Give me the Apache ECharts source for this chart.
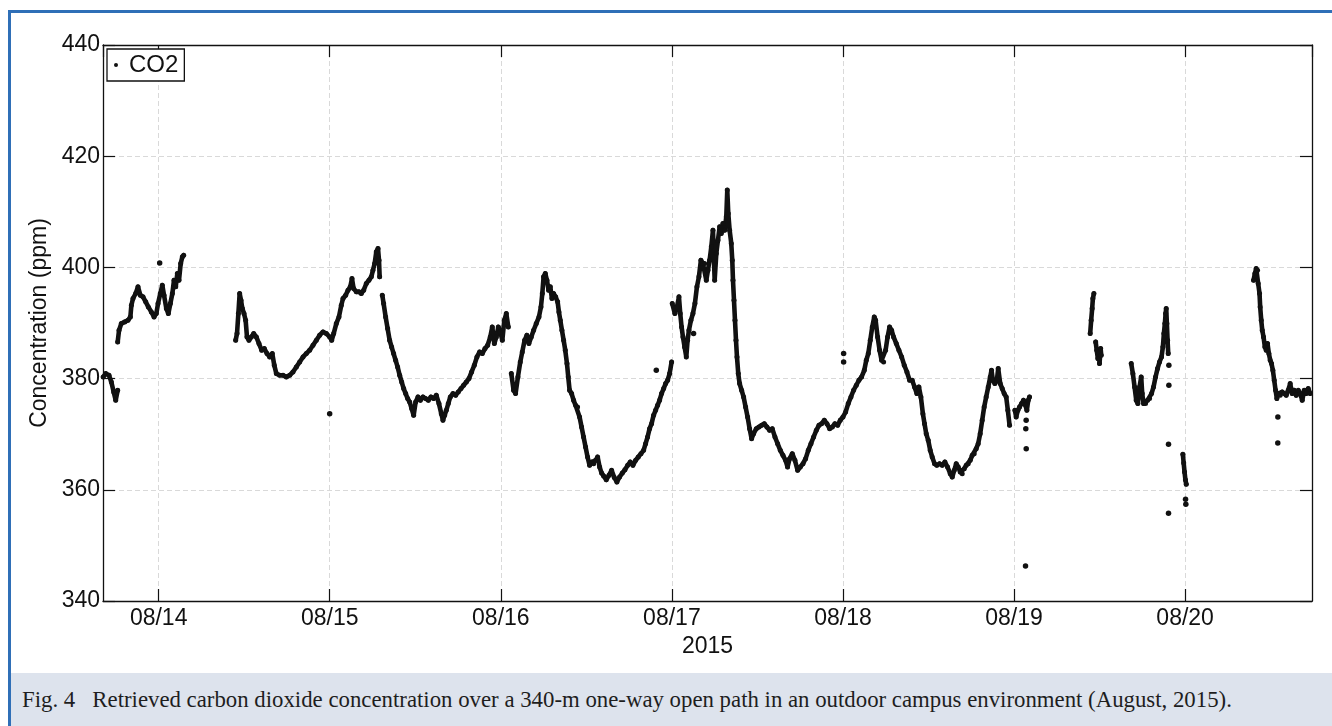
<!DOCTYPE html>
<html>
<head>
<meta charset="utf-8">
<script src="https://cdn.jsdelivr.net/npm/echarts@6/dist/echarts.min.js"></script>
<style>
  html, body { margin: 0; padding: 0; background: #ffffff; }
  #page { position: relative; width: 1332px; height: 726px; overflow: hidden; background: #fff; }
  #frame { position: absolute; left: 8px; top: 10px; width: 1400px; height: 800px;
           border-left: 3px solid #2f6fb7; border-top: 3px solid #2f6fb7; box-sizing: border-box; }
  #chart { position: absolute; left: 0; top: 0; width: 1332px; height: 726px; }
  #caption { position: absolute; left: 11px; top: 673px; width: 1321px; height: 53px;
             background: #dde3ed; font-family: "Liberation Serif", "DejaVu Serif", serif;
             font-size: 22.8px; color: #1e1e1e; line-height: 53px; padding-left: 11px;
             box-sizing: border-box; white-space: pre; }
</style>
</head>
<body>
<div id="page">
  <div id="frame"></div>
  <div id="chart"></div>
  <div id="caption">Fig. 4   Retrieved carbon dioxide concentration over a 340-m one-way open path in an outdoor campus environment (August, 2015).</div>
</div>
<script>
// Continuous CO2 record: hours after 2015-08-14 00:00 and concentration (ppm).
// A null entry in both arrays marks a break in the record.
const traceHours = [
  -7.78, -7.43, -6.97, -6.64, -6.31, -6.03, -5.75, null,
  -5.75, -5.56, -5.24, -4.77, -4.30, -3.97, -3.83, -3.60, -3.23, -2.90, -2.57, -2.20, -1.82, -1.45, -1.03, -0.65, -0.33, -0.09,
  0.23, 0.51, 0.75, 1.08, 1.36, 1.64, 1.92, 2.15, 2.39, 2.62, 2.85, 3.09, 3.32, 3.51, null,
  10.80, 10.99, 11.18, 11.36, 11.55, 11.74, 11.97, 12.20, 12.39, 12.67, 13.00, 13.33, 13.70, 14.07, 14.45, 14.82, 15.20, 15.57,
  15.94, 16.22, 16.51, 16.97, 17.44, 17.91, 18.38, 18.84, 19.31, 19.78, 20.25, 20.71, 21.18, 21.65, 22.12, 22.58, 23.05, 23.52,
  23.99, 24.27, 24.55, 24.92, 25.29, 25.62, 25.86, 26.23, 26.56, 26.88, 27.12, 27.35, 27.73, 28.10, 28.43, 28.76, 29.13, 29.50,
  29.83, 30.06, 30.30, 30.53, 30.77, 30.91, 31.00, null,
  31.37, 31.56, 31.84, 32.12, 32.40, 32.68, 32.96, 33.24, 33.52, 33.81, 34.09, 34.37, 34.65, 34.93, 35.21, 35.49, 35.77, 36.05,
  36.38, 36.71, 37.08, 37.45, 37.83, 38.20, 38.57, 38.95, 39.32, 39.65, 39.88, 40.12, 40.35, 40.63, 40.91, 41.29, 41.66, 42.03,
  42.41, 42.78, 43.16, 43.53, 43.90, 44.28, 44.65, 45.03, 45.40, 45.78, 46.15, 46.52, 46.80, 47.09, 47.37, 47.65, 47.93, 48.21,
  48.49, 48.77, 49.05, null,
  49.47, 49.79, 50.07, 50.40, 50.73, 51.01, 51.34, 51.66, 51.94, 52.27, 52.60, 52.97, 53.35, 53.63, 53.82, 54.00, 54.24, 54.47,
  54.70, 54.94, 55.17, 55.40, 55.69, 55.97, 56.15, 56.34, 56.57, 56.81, 57.04, 57.28, 57.46, 57.65, 57.93, 58.21, 58.49, 58.77,
  59.05, 59.33, 59.61, 59.89, 60.17, 60.45, 60.74, 61.02, 61.30, 61.58, 61.86, 62.14, 62.42, 62.79, 63.17, 63.54, 63.92, 64.29,
  64.66, 65.04, 65.41, 65.79, 66.16, 66.53, 66.91, 67.28, 67.66, 68.03, 68.31, 68.59, 68.87, 69.15, 69.43, 69.71, 69.99, 70.27,
  70.55, 70.84, 71.12, 71.40, 71.68, 71.96, null,
  72.05, 72.42, 72.71, 72.99, 73.17, 73.36, 73.55, 73.78, 74.02, 74.20, 74.39, 74.67, 74.95, 75.23, 75.51, 75.79, 76.07, 76.35,
  76.59, 76.83, 77.06, 77.29, 77.53, 77.76, 78.00, 78.23, 78.46, 78.70, 78.93, 79.16, 79.40, 79.63, 79.77, 79.91, 80.10, 80.33,
  80.47, 80.57, 80.71, 80.85, 80.99, 81.13, 81.31, 81.50, 81.78, 82.06, 82.34, 82.62, 82.90, 83.18, 83.46, 83.84, 84.21, 84.59,
  84.96, 85.33, 85.71, 86.08, 86.46, 86.83, 87.21, 87.58, 87.95, 88.23, 88.51, 88.89, 89.26, 89.64, 90.01, 90.39, 90.76, 91.13,
  91.51, 91.88, 92.26, 92.63, 93.00, 93.38, 93.75, 94.13, 94.50, 94.87, 95.25, 95.62, 96.00, 96.37, 96.74, 97.12, 97.49, 97.87,
  98.24, 98.61, 98.99, 99.27, 99.55, 99.83, 100.11, 100.39, 100.58, 100.86, 101.14, 101.42, 101.70, 101.98, 102.26, 102.54,
  102.82, 103.10, 103.48, 103.85, 104.23, 104.60, 104.97, 105.35, 105.71, 106.04, 106.37, 106.65, 106.93, 107.21, 107.44,
  107.68, 107.96, 108.24, 108.52, 108.85, 109.17, 109.55, 109.92, 110.30, 110.67, 111.05, 111.33, 111.61, 111.89, 112.17,
  112.45, 112.73, 113.01, 113.29, 113.57, 113.85, 114.13, 114.41, 114.69, 114.97, 115.25, 115.53, 115.81, 116.09, 116.38,
  116.66, 116.84, 117.03, 117.31, 117.59, 117.78, 118.06, 118.34, 118.62, 118.90, 119.13, 119.37, null,
  120.12, 120.30, 120.54, 120.77, 121.05, 121.33, 121.61, 121.80, 121.99, 122.17, null,
  130.68, 130.82, 130.96, 131.06, 131.20, null,
  131.45, 131.60, 131.76, 131.90, 131.99, 132.15, 132.23, null,
  136.44, 136.67, 136.91, 137.14, 137.37, 137.61, 137.84, 137.98, 138.17, 138.45, 138.73, 139.01, 139.29, 139.57, 139.85,
  140.13, 140.41, 140.69, 140.88, 141.02, 141.16, 141.26, 141.35, 141.44, 141.54, 141.63, null,
  143.68, 143.80, 143.92, 144.04, 144.16, null,
  153.60, 153.79, 153.97, 154.16, 154.25, 154.44, 154.53, 154.68, 154.82, 155.00, 155.19, 155.38, 155.56, 155.75, 155.94,
  156.12, 156.31, 156.50, 156.69, 156.87, 157.06, 157.34, 157.62, 157.90, 158.18, 158.46, 158.74, 159.02, 159.30, 159.59,
  159.87, 160.15, 160.43, 160.71, 160.99, 161.27, 161.55
];
const tracePpm = [
  380.3, 380.9, 380.6, 379.4, 377.6, 376.1, 377.9, null,
  386.6, 388.7, 389.9, 390.2, 390.5, 391.1, 393.2, 394.4, 395.3, 396.5, 395.0, 394.7, 393.8, 392.9, 392.0, 391.1, 391.7, 393.5,
  395.3, 396.8, 395.0, 392.6, 391.7, 393.5, 395.3, 397.7, 396.5, 398.9, 397.7, 400.7, 401.9, 402.2, null,
  386.9, 388.1, 391.7, 395.3, 394.1, 392.6, 391.7, 390.5, 387.5, 386.9, 387.5, 388.1, 387.5, 386.3, 385.1, 385.4, 384.5, 383.9,
  384.5, 382.4, 380.9, 380.6, 380.6, 380.3, 380.6, 381.2, 382.1, 383.0, 383.9, 384.5, 385.1, 386.0, 386.9, 387.8, 388.4, 388.1,
  387.5, 386.9, 388.1, 389.9, 391.1, 393.2, 394.4, 395.0, 395.9, 396.5, 398.0, 396.2, 395.6, 395.6, 395.3, 395.9, 397.1, 397.7,
  398.3, 399.5, 400.7, 402.8, 403.4, 401.3, 398.3, null,
  395.0, 393.5, 391.1, 389.0, 386.9, 385.7, 384.5, 383.3, 382.1, 380.6, 379.4, 378.2, 377.3, 376.4, 375.8, 374.6, 373.4, 375.8,
  376.7, 376.1, 376.7, 376.4, 376.1, 376.7, 376.4, 377.0, 375.5, 373.7, 372.5, 373.4, 374.3, 375.5, 376.7, 377.3, 377.0, 377.6,
  378.2, 378.8, 379.4, 380.0, 381.2, 382.4, 383.9, 384.8, 384.5, 385.4, 386.0, 387.5, 389.3, 386.3, 387.5, 389.3, 388.4, 386.9,
  390.5, 391.7, 389.3, null,
  380.9, 377.9, 377.3, 380.3, 383.0, 384.8, 386.9, 387.8, 386.3, 387.5, 388.7, 389.9, 391.1, 392.9, 395.3, 398.3, 398.9, 397.7,
  395.9, 396.5, 394.4, 395.3, 394.7, 393.8, 392.0, 390.5, 388.7, 386.9, 385.1, 382.7, 380.3, 377.9, 377.3, 376.1, 375.2, 374.9,
  373.1, 371.3, 369.5, 367.7, 365.9, 364.4, 365.0, 364.7, 365.3, 365.9, 364.1, 363.0, 362.5, 361.8, 362.6, 363.5, 362.2, 361.4,
  362.3, 363.0, 363.6, 364.4, 365.0, 364.4, 365.3, 365.9, 366.5, 367.1, 368.3, 369.5, 371.0, 371.9, 373.4, 374.3, 375.2, 376.1,
  377.3, 378.2, 379.1, 379.7, 380.9, 383.0, null,
  393.5, 391.7, 392.9, 394.7, 391.7, 389.3, 387.5, 385.7, 383.9, 386.9, 388.7, 390.5, 391.7, 393.5, 396.5, 398.3, 401.3, 400.7,
  400.7, 397.7, 399.5, 401.3, 403.7, 406.7, 397.7, 402.5, 404.9, 407.3, 406.1, 407.9, 406.7, 409.1, 413.9, 409.7, 406.7, 404.3,
  401.3, 397.7, 394.1, 390.5, 386.9, 383.9, 380.9, 379.1, 377.9, 376.7, 374.9, 373.1, 371.0, 369.2, 370.1, 371.0, 371.3, 371.6,
  371.9, 371.3, 370.7, 371.0, 369.5, 368.3, 367.1, 366.2, 365.3, 364.1, 365.6, 366.5, 365.3, 363.5, 364.1, 364.7, 365.6, 367.1,
  368.3, 369.5, 370.7, 371.6, 371.9, 372.5, 371.9, 371.0, 371.3, 371.9, 371.6, 372.5, 373.1, 374.0, 375.5, 376.7, 377.9, 378.8,
  379.7, 380.3, 381.5, 383.3, 384.5, 386.9, 389.3, 391.1, 390.5, 387.5, 385.1, 383.3, 383.0, 385.1, 387.5, 389.3,
  388.7, 387.5, 386.3, 385.1, 383.9, 382.4, 381.2, 379.7, 379.7, 378.5, 377.3, 378.5, 376.7, 373.7, 371.9,
  370.1, 368.9, 367.1, 365.9, 364.7, 364.4, 364.7, 364.4, 365.0, 364.1, 362.9, 362.3, 363.5, 364.7, 364.1,
  363.2, 362.9, 363.8, 364.4, 364.7, 365.3, 366.2, 366.5, 367.4, 368.3, 370.1, 372.5, 374.9, 376.7, 378.5,
  380.3, 381.5, 379.7, 379.1, 379.7, 381.8, 379.1, 378.2, 377.3, 376.7, 374.3, 371.6, null,
  374.3, 373.1, 374.3, 374.9, 375.5, 376.1, 375.2, 374.3, 376.1, 376.7, null,
  388.1, 390.5, 392.6, 394.4, 395.3, null,
  386.6, 385.1, 383.6, 384.8, 382.7, 385.4, 384.2, null,
  382.7, 380.9, 378.5, 376.1, 375.5, 378.5, 380.3, 377.3, 375.5, 375.5, 376.1, 376.4, 377.3, 378.5, 380.3,
  381.8, 383.0, 383.9, 385.7, 388.1, 389.9, 391.7, 392.6, 389.9, 386.9, 384.5, null,
  366.4, 364.8, 363.2, 361.8, 361.0, null,
  397.7, 398.9, 399.8, 399.5, 397.1, 395.3, 392.9, 390.5, 388.7, 387.5, 385.7, 385.1, 386.3, 384.5, 383.3,
  382.7, 381.5, 379.7, 377.9, 376.4, 377.3, 377.0, 377.6, 377.3, 377.0, 377.9, 379.1, 377.3, 377.9, 377.0,
  377.9, 377.3, 376.1, 377.9, 377.3, 378.2, 377.3
];
// Isolated readings that stand apart from the continuous record.
const strayHours = [0.14, 23.99, 69.81, 75.04, 96.09, 96.09, 121.65, 121.70, 121.71, 121.61,
                    141.72, 141.72, 141.67, 141.67, 144.06, 144.10, 157.01, 157.00];
const strayPpm   = [400.8, 373.7, 381.5, 388.1, 384.5, 383.0, 371.0, 372.5, 367.4, 346.3,
                    382.4, 378.8, 368.2, 355.8, 358.3, 357.4, 373.1, 368.4];

// Axis settings
const yMin = 340, yMax = 440, yStep = 20;
const rangeHours = [-7.81, 161.8];
const yearLabel = '2015';
const seriesName = 'CO2';
const yTitle = 'Concentration (ppm)';

const day0 = new Date(2015, 7, 14, 0, 0, 0).getTime();
const hourMs = 3600 * 1000;
const toTime = h => day0 + h * hourMs;

const traceData = [];
let lastT = toTime(traceHours[0]);
for (let i = 0; i < traceHours.length; i++) {
  if (traceHours[i] === null) { traceData.push([lastT, '-']); continue; }
  lastT = toTime(traceHours[i]);
  traceData.push([lastT, tracePpm[i]]);
}
const strayData = strayHours.map((h, i) => [toTime(h), strayPpm[i]]);

const FONT = 'Liberation Sans, Arial, sans-serif';
const INK = '#111111';
const gridLine = { show: true, lineStyle: { color: '#d9d9d9', width: 1, type: [5, 3] } };
const tickIn = { show: true, inside: true, length: 12, lineStyle: { color: INK, width: 1.2 } };
const axisLine = { show: true, lineStyle: { color: INK, width: 1.3 } };
const xMin = toTime(rangeHours[0]), xMax = toTime(rangeHours[1]);

const chart = echarts.init(document.getElementById('chart'), null, { renderer: 'canvas' });
chart.setOption({
  backgroundColor: 'transparent',
  animation: false,
  grid: { left: 103, right: 20, top: 45, bottom: 125, containLabel: false, outerBoundsMode: 'none' },
  legend: {
    left: 107, top: 49, orient: 'horizontal',
    data: [{ name: seriesName, icon: 'circle' }],
    itemWidth: 16, itemHeight: 4,
    padding: [4, 6, 4, 7],
    borderColor: INK, borderWidth: 1.3, borderRadius: 0,
    backgroundColor: '#ffffff',
    textStyle: { fontFamily: FONT, fontSize: 24, color: INK },
    selectedMode: false
  },
  xAxis: [
    {
      type: 'time', position: 'bottom', min: xMin, max: xMax,
      minInterval: 24 * hourMs, maxInterval: 24 * hourMs,
      name: yearLabel, nameLocation: 'middle', nameGap: 29,
      nameTextStyle: { fontFamily: FONT, fontSize: 23, color: INK },
      axisLine: axisLine, axisTick: tickIn, splitLine: gridLine,
      axisLabel: { formatter: '{MM}/{dd}', fontFamily: FONT, fontSize: 23, color: INK, margin: 6,
                   showMinLabel: false, showMaxLabel: false, hideOverlap: false }
    },
    {
      type: 'time', position: 'top', min: xMin, max: xMax,
      minInterval: 24 * hourMs, maxInterval: 24 * hourMs,
      axisLine: axisLine, axisTick: tickIn, splitLine: { show: false },
      axisLabel: { show: false }
    }
  ],
  yAxis: [
    {
      type: 'value', position: 'left', min: yMin, max: yMax, interval: yStep,
      name: yTitle, nameLocation: 'middle', nameGap: 47,
      nameTextStyle: { fontFamily: FONT, fontSize: 23, color: INK },
      axisLine: axisLine, axisTick: tickIn, splitLine: gridLine,
      axisLabel: { fontFamily: FONT, fontSize: 23, color: INK, margin: 3 }
    },
    {
      type: 'value', position: 'right', min: yMin, max: yMax, interval: yStep,
      axisLine: axisLine, axisTick: tickIn, splitLine: { show: false },
      axisLabel: { show: false }
    }
  ],
  series: [
    {
      name: seriesName, type: 'line', xAxisIndex: 0, yAxisIndex: 0,
      data: traceData, connectNulls: false,
      showSymbol: true, symbol: 'circle', symbolSize: 5,
      itemStyle: { color: INK, opacity: 1 },
      lineStyle: { color: INK, width: 4.6, join: 'round', cap: 'round' },
      emphasis: { disabled: true }, silent: true, z: 3
    },
    {
      name: seriesName, type: 'scatter', xAxisIndex: 0, yAxisIndex: 0,
      data: strayData, symbol: 'circle', symbolSize: 5.5,
      itemStyle: { color: INK, opacity: 1 },
      emphasis: { disabled: true }, silent: true, z: 3
    }
  ]
});
</script>
</body>
</html>
